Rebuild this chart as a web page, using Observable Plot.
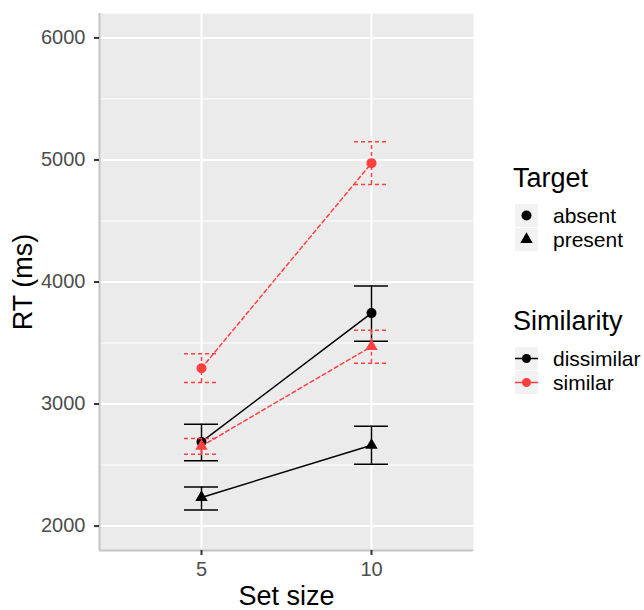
<!DOCTYPE html>
<html><head><meta charset="utf-8">
<script src="https://cdn.jsdelivr.net/npm/d3@7"></script>
<script src="https://cdn.jsdelivr.net/npm/@observablehq/plot@0.6"></script>
<style>
html,body{margin:0;padding:0;background:#fff;}
#chart{position:relative;width:644px;height:610px;font-family:"Liberation Sans",Arial,Helvetica,sans-serif;}
#chart svg{position:absolute;left:0;top:0;}
</style></head><body><div id="chart"></div>
<script>
// ---- data ----
const setSizes = [5, 10];
const targets = ["absent", "present"];
const similarities = ["dissimilar", "similar"];

const dissimilarAbsentRT = [2690, 3745];
const dissimilarAbsentLo = [2535, 3515];
const dissimilarAbsentHi = [2835, 3968];

const dissimilarPresentRT = [2235, 2662];
const dissimilarPresentLo = [2131, 2507];
const dissimilarPresentHi = [2321, 2818];

const similarAbsentRT = [3294, 4974];
const similarAbsentLo = [3177, 4799];
const similarAbsentHi = [3412, 5150];

const similarPresentRT = [2655, 3472];
const similarPresentLo = [2589, 3335];
const similarPresentHi = [2717, 3605];

const yMajor = [2000, 3000, 4000, 5000, 6000];
const yMinor = [2500, 3500, 4500, 5500];
const xDomain = [2, 13];
const yDomain = [1800, 6200];

const xTitle = "Set size";
const yTitle = "RT (ms)";

// ---- table ----
const series = [
  {similarity: "dissimilar", target: "absent", rt: dissimilarAbsentRT, lo: dissimilarAbsentLo, hi: dissimilarAbsentHi},
  {similarity: "dissimilar", target: "present", rt: dissimilarPresentRT, lo: dissimilarPresentLo, hi: dissimilarPresentHi},
  {similarity: "similar", target: "absent", rt: similarAbsentRT, lo: similarAbsentLo, hi: similarAbsentHi},
  {similarity: "similar", target: "present", rt: similarPresentRT, lo: similarPresentLo, hi: similarPresentHi}
];
const rows = [];
for (const s of series) setSizes.forEach((x, i) => rows.push({size: x, target: s.target, similarity: s.similarity, rt: s.rt[i], lo: s.lo[i], hi: s.hi[i]}));

const colors = {dissimilar: "#000000", similar: "#ff4040"};
const dashes = {dissimilar: null, similar: "4,3"};
const halfCap = 0.5;
const font = '"Liberation Sans", Arial, Helvetica, sans-serif';

function groupMarks(sim) {
  const f = d => d.similarity === sim;
  const st = {stroke: colors[sim], strokeWidth: 1.5, strokeDasharray: dashes[sim]};
  return [
    Plot.ruleX(rows, {filter: f, x: "size", y1: "lo", y2: "hi", ...st}),
    Plot.ruleY(rows, {filter: f, y: "lo", x1: d => d.size - halfCap, x2: d => d.size + halfCap, ...st}),
    Plot.ruleY(rows, {filter: f, y: "hi", x1: d => d.size - halfCap, x2: d => d.size + halfCap, ...st}),
    Plot.line(rows, {filter: f, x: "size", y: "rt", z: "target", ...st}),
    Plot.dot(rows, {filter: d => f(d) && d.target === "absent", x: "size", y: "rt", r: 5, symbol: "circle", fill: colors[sim], stroke: null}),
    Plot.dot(rows, {filter: d => f(d) && d.target === "present", x: "size", y: "rt", r: 4.6, symbol: "triangle", fill: colors[sim], stroke: null})
  ];
}

const plot = Plot.plot({
  width: 644, height: 610,
  marginLeft: 99, marginRight: 171, marginTop: 13, marginBottom: 60,
  style: {fontFamily: font, background: "transparent", overflow: "visible"},
  x: {domain: xDomain},
  y: {domain: yDomain},
  marks: [
    Plot.frame({fill: "#ebebeb", stroke: null}),
    Plot.ruleY(yMinor, {stroke: "white", strokeWidth: 1}),
    Plot.ruleY(yMajor, {stroke: "white", strokeWidth: 2}),
    Plot.ruleX(setSizes, {stroke: "white", strokeWidth: 2}),
    Plot.ruleX([xDomain[0]], {stroke: "#c4c4c4", strokeWidth: 2}),
    Plot.ruleY([yDomain[0]], {stroke: "#c4c4c4", strokeWidth: 2}),
    Plot.axisY({ticks: yMajor, tickFormat: "d", tickSize: 5, tickPadding: 9, stroke: "#333333", fill: "#4d4d4d", strokeWidth: 2, fontSize: 20, label: null}),
    Plot.axisX({ticks: setSizes, tickFormat: "d", tickSize: 5, tickPadding: 6, stroke: "#333333", fill: "#4d4d4d", strokeWidth: 2, fontSize: 20, label: null}),
    ...groupMarks("dissimilar"),
    ...groupMarks("similar"),
    Plot.text([yTitle], {text: d => d, frameAnchor: "left", textAnchor: "middle", lineAnchor: "middle", dx: -76, rotate: -90, fontSize: 27, fill: "black"}),
    Plot.text([xTitle], {text: d => d, frameAnchor: "bottom", textAnchor: "middle", lineAnchor: "middle", dy: 46, fontSize: 27, fill: "black"})
  ]
});
document.getElementById("chart").appendChild(plot);

// ---- legend ----
const leg = d3.select("#chart").append("svg")
  .attr("width", 139).attr("height", 250)
  .style("left", "505px").style("top", "160px")
  .style("font-family", font);

leg.append("text").attr("x", 8).attr("y", 27).attr("font-size", 27).text("Target");
const tg = leg.selectAll("g.t").data(targets).join("g").attr("transform", (d, i) => `translate(10,${44 + i * 24})`);
tg.append("rect").attr("width", 23).attr("height", 23).attr("fill", "#f2f2f2");
tg.append("path").attr("transform", "translate(11.5,11.5)")
  .attr("d", d => d3.symbol(d === "absent" ? d3.symbolCircle : d3.symbolTriangle, d === "absent" ? Math.PI * 25 : Math.PI * 4.6 * 4.6)())
  .attr("fill", "black");
tg.append("text").attr("x", 38).attr("y", 11.5).attr("dy", "0.35em").attr("font-size", 21).text(d => d);

leg.append("text").attr("x", 8).attr("y", 170).attr("font-size", 27).text("Similarity");
const sg = leg.selectAll("g.s").data(similarities).join("g").attr("transform", (d, i) => `translate(10,${187 + i * 24})`);
sg.append("rect").attr("width", 23).attr("height", 23).attr("fill", "#f2f2f2");
sg.append("line").attr("x1", 0).attr("x2", 23).attr("y1", 11.5).attr("y2", 11.5).attr("stroke", d => colors[d]).attr("stroke-width", 1.5);
sg.append("circle").attr("cx", 11.5).attr("cy", 11.5).attr("r", 4.5).attr("fill", d => colors[d]);
sg.append("text").attr("x", 38).attr("y", 11.5).attr("dy", "0.35em").attr("font-size", 21).text(d => d);
</script></body></html>
